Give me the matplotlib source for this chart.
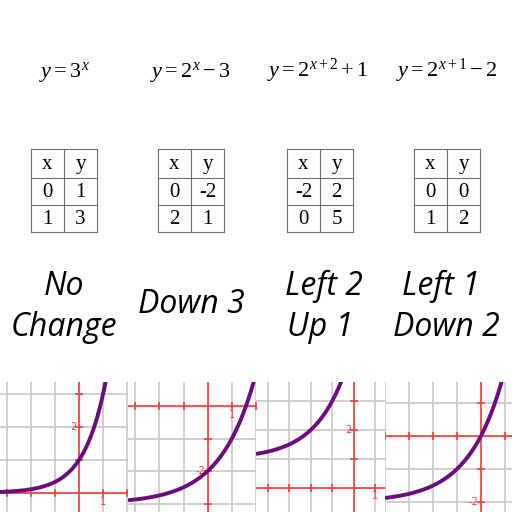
import numpy as np
import matplotlib
matplotlib.use('Agg')
import matplotlib.pyplot as plt

plt.rcParams['mathtext.fontset'] = 'custom'
plt.rcParams['mathtext.rm'] = 'Liberation Serif'
plt.rcParams['mathtext.it'] = 'Liberation Serif:italic'

# Equations, tables and captions (one per column)
equations = [r'$y = 3^{x}$', r'$y = 2^{x} - 3$', r'$y = 2^{x+2} + 1$', r'$y = 2^{x+1} - 2$']
table_x = [['0', '1'], ['0', '2'], ['-2', '0'], ['0', '1']]
table_y = [['1', '3'], ['-2', '1'], ['2', '5'], ['0', '2']]
captions = [['No', 'Change'], ['Down 3'], ['Left 2', 'Up 1'], ['Left 1', 'Down 2']]

# Function parameters y = base**(x + h) + k
bases = [3, 2, 2, 2]
h_shift = [0, 0, 2, 1]
v_shift = [0, -3, 1, -2]

# Graph windows
xlims = [(-3.3, 2.04), (-3.3, 2.0), (-4.55, 1.45), (-4.0, 1.3)]
ylims = [(-0.58, 3.36), (-3.26, 0.74), (-0.83, 3.65), (-2.3, 1.64)]
y_labels = [2, -2, 2, -2]
x_labels = [1, 1, 1, None]

W = 512
fig = plt.figure(figsize=(5.12, 5.12), dpi=100)
ov = fig.add_axes([0, 0, 1, 1])
ov.set_xlim(0, W)
ov.set_ylim(W, 0)
ov.axis('off')

eq_cx = [64, 190, 318, 447]
tab_left = [31, 158, 287, 414]
cap_cx = [[64, 64], [191], [324, 320], [441, 446]]
cap_base = [[295, 336], [313], [295, 336], [295, 336]]

row_edges = [149, 178, 205, 232]
tab_w = 66
gray = '#707070'

for i in range(4):
    ov.text(eq_cx[i], 77, equations[i], fontsize=16, ha='center', va='baseline')

    x0 = tab_left[i]
    x1 = x0 + tab_w
    xm = x0 + 33
    for ry in row_edges:
        ov.plot([x0, x1], [ry, ry], color=gray, lw=0.8)
    for cx in [x0, xm, x1]:
        ov.plot([cx, cx], [row_edges[0], row_edges[-1]], color=gray, lw=0.8)
    cells = [['x', 'y'], [table_x[i][0], table_y[i][0]], [table_x[i][1], table_y[i][1]]]
    for r in range(3):
        cy = (row_edges[r] + row_edges[r + 1]) / 2
        for c in range(2):
            cx = (x0 + xm) / 2 if c == 0 else (xm + x1) / 2
            ov.text(cx, cy + 1, cells[r][c], fontsize=15, family='Liberation Serif',
                    ha='center', va='center')

    for j, line in enumerate(captions[i]):
        ov.text(cap_cx[i][j], cap_base[i][j], line, fontsize=23, family='Open Sans',
                style='italic', ha='center', va='baseline')

# Graph panels
panel_left = [0, 128, 256, 385]
panel_right = [128, 256, 385, 512]
panel_top = 382
red = '#ff3c3c'
purple = '#6a0d7e'

for i in range(4):
    ax = fig.add_axes([panel_left[i] / W, 0, (panel_right[i] - panel_left[i]) / W,
                       (W - panel_top) / W])
    ax.set_xlim(*xlims[i])
    ax.set_ylim(*ylims[i])
    ax.axis('off')

    xs_int = np.arange(np.ceil(xlims[i][0]), np.floor(xlims[i][1]) + 1)
    ys_int = np.arange(np.ceil(ylims[i][0]), np.floor(ylims[i][1]) + 1)
    for gx in xs_int:
        ax.axvline(gx, color='#cccccc', lw=1.3, zorder=1)
    for gy in ys_int:
        ax.axhline(gy, color='#cccccc', lw=1.3, zorder=1)

    ax.axvline(0, color=red, lw=1.2, zorder=2)
    ax.axhline(0, color=red, lw=1.2, zorder=2)
    tx = xs_int[xs_int != 0]
    ty = ys_int[ys_int != 0]
    ax.plot(tx, np.zeros_like(tx), ls='none', marker='|', ms=6, mew=1.2, color=red, zorder=2)
    ax.plot(np.zeros_like(ty), ty, ls='none', marker='_', ms=6, mew=1.2, color=red, zorder=2)

    ax.text(-0.12, y_labels[i], str(y_labels[i]), color=red, fontsize=7,
            ha='right', va='center', zorder=2)
    if x_labels[i] is not None:
        ax.text(x_labels[i], -0.12, str(x_labels[i]), color=red, fontsize=7,
                ha='center', va='top', zorder=2)

    x = np.linspace(xlims[i][0], xlims[i][1], 300)
    y = bases[i] ** (x + h_shift[i]) + v_shift[i]
    ax.plot(x, y, color=purple, lw=2.8, zorder=3, solid_capstyle='butt')

fig.savefig('out.png', dpi=100)
